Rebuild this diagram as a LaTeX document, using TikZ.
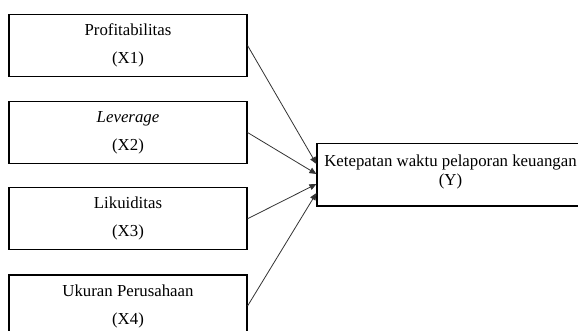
\documentclass[tikz,border=0pt]{standalone}
\usepackage{fontspec}
\setmainfont{Liberation Serif}
\usetikzlibrary{arrows.meta}
\begin{document}
\begin{tikzpicture}[x=1pt,y=-1pt,
  varbox/.style={draw=black,line width=1.1pt,minimum width=238pt,minimum height=62pt,
    align=center,inner sep=0pt,font=\fontsize{16.8}{28}\selectfont},
  ybox/.style={draw=black,line width=1.1pt,minimum width=268pt,minimum height=62.5pt,inner sep=0pt},
  ytext/.style={align=center,inner sep=0pt,font=\fontsize{16.8}{19}\selectfont},
  link/.style={draw=black!80,line width=0.8pt,-{Triangle[length=7pt,width=6pt]}}]
\useasboundingbox (0,0) rectangle (578,331);
\node[varbox] (b1) at (128,45.5) {Profitabilitas\\(X1)};
\node[varbox] (b2) at (128,132.5) {\textit{Leverage}\\(X2)};
\node[varbox] (b3) at (128,218.75) {Likuiditas\\(X3)};
\node[varbox] (b4) at (128,306) {Ukuran Perusahaan\\(X4)};
\node[ybox] (y) at (451,174.75) {};
\node[ytext] (yt) at (450.5,171.5) {Ketepatan waktu pelaporan keuangan\\(Y)};
\draw[link] (b1.east) -- ([yshift=10.75pt]y.west);
\draw[link] (b2.east) -- ([yshift=0.75pt]y.west);
\draw[link] (b3.east) -- ([yshift=-9.25pt]y.west);
\draw[link] (b4.east) -- ([yshift=-18.25pt]y.west);
\end{tikzpicture}
\end{document}
